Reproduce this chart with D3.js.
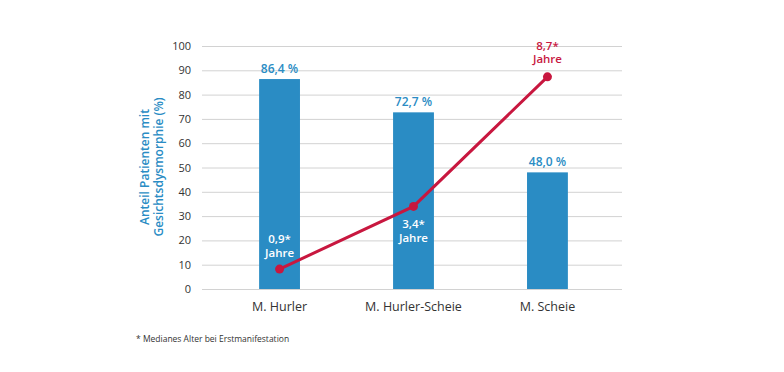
<!DOCTYPE html>
<html>
<head>
<meta charset="utf-8">
<script src="https://cdn.jsdelivr.net/npm/d3@7"></script>
<style>
html,body{margin:0;padding:0;background:#fff;}
svg{display:block;font-family:"Open Sans",sans-serif;}
</style>
</head>
<body>
<svg id="chart" width="784" height="372"></svg>
<script>
const categories = ["M. Hurler", "M. Hurler-Scheie", "M. Scheie"];
const barValues = [86.4, 72.7, 48.0];
const barLabels = ["86,4 %", "72,7 %", "48,0 %"];
const lineValues = [8.2, 34.0, 87.3];
const lineLabels = ["0,9*", "3,4*", "8,7*"];
const lineLabelUnit = "Jahre";
const yTicks = [0, 10, 20, 30, 40, 50, 60, 70, 80, 90, 100];
const yTitle = ["Anteil Patienten mit", "Gesichtsdysmorphie (%)"];
const footnote = "* Medianes Alter bei Erstmanifestation";

const blue = "#2a8cc4", red = "#c8173f";
const svg = d3.select("#chart");
const x = d3.scaleBand().domain(categories).range([205, 622]).paddingInner(0.695).paddingOuter(0.404);
const y = d3.scaleLinear().domain([0, 100]).range([289, 46]);

// grid
svg.append("g").selectAll("line").data(yTicks).join("line")
  .attr("x1", 202).attr("x2", 622)
  .attr("y1", d => y(d) + 0.5).attr("y2", d => y(d) + 0.5)
  .attr("stroke", "#d2d2d2").attr("stroke-width", 1);

// y axis labels
const yAxis = svg.append("g").attr("transform", "translate(191,0)")
  .call(d3.axisLeft(y).tickValues(yTicks).tickSize(0).tickPadding(0));
yAxis.select(".domain").remove();
yAxis.selectAll("text").attr("font-size", 11).attr("fill", "#333").attr("font-family", "Open Sans, sans-serif");

// x axis labels
const xAxis = svg.append("g").attr("transform", "translate(0,289)")
  .call(d3.axisBottom(x).tickSize(0).tickPadding(13));
xAxis.select(".domain").remove();
xAxis.selectAll("text").attr("font-size", 12.5).attr("fill", "#333").attr("font-family", "Open Sans, sans-serif");

// y title
const yt = svg.append("text").attr("transform", "translate(0,167) rotate(-90)")
  .attr("text-anchor", "middle").attr("fill", blue).attr("font-size", 12).attr("font-weight", 600);
yt.selectAll("tspan").data(yTitle).join("tspan")
  .attr("x", 0).attr("y", (d, i) => 149 + i * 13.5).text(d => d);

// bars
svg.append("g").selectAll("rect").data(barValues).join("rect")
  .attr("x", (d, i) => x(categories[i])).attr("width", x.bandwidth())
  .attr("y", d => y(d)).attr("height", d => y(0) - y(d)).attr("fill", blue);

svg.append("g").selectAll("text").data(barValues).join("text")
  .attr("x", (d, i) => x(categories[i]) + x.bandwidth() / 2)
  .attr("y", d => y(d) - 6).attr("text-anchor", "middle")
  .attr("font-size", 12).attr("font-weight", 600).attr("fill", blue)
  .text((d, i) => barLabels[i]);

// line
const pts = lineValues.map((v, i) => [x(categories[i]) + x.bandwidth() / 2, y(v)]);
svg.append("path").attr("d", d3.line()(pts)).attr("fill", "none")
  .attr("stroke", red).attr("stroke-width", 3);
svg.append("g").selectAll("circle").data(pts).join("circle")
  .attr("cx", d => d[0]).attr("cy", d => d[1]).attr("r", 4.5).attr("fill", red);

// line labels
const llOffsets = [[-26, -12.5], [22, 35.5], [-27, -13.5]];
const llColors = ["#fff", "#fff", red];
lineLabels.forEach((lab, i) => {
  svg.append("text").attr("text-anchor", "middle")
    .attr("font-size", 11.5).attr("font-weight", 600).attr("fill", llColors[i])
    .attr("x", pts[i][0]).attr("y", pts[i][1] + llOffsets[i][0]).text(lab);
  svg.append("text").attr("text-anchor", "middle")
    .attr("font-size", 11.5).attr("font-weight", 600).attr("fill", llColors[i])
    .attr("x", pts[i][0]).attr("y", pts[i][1] + llOffsets[i][1]).text(lineLabelUnit);
});

// footnote
svg.append("text").attr("x", 136).attr("y", 342).attr("font-size", 8.5).attr("fill", "#333").text(footnote);
</script>
</body>
</html>
